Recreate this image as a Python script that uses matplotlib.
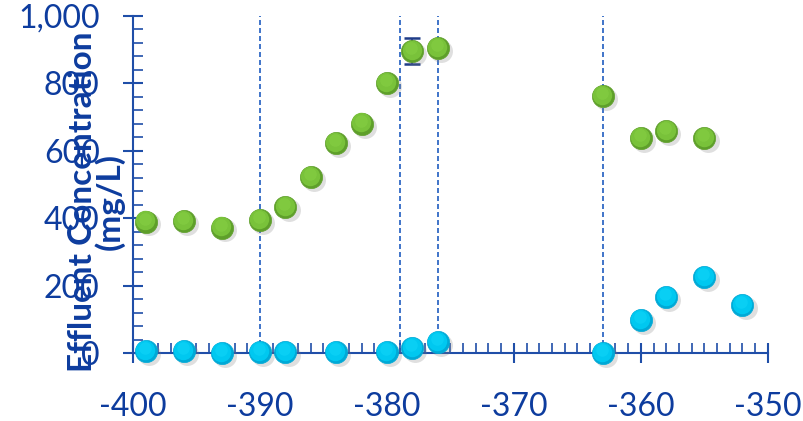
import numpy as np
import matplotlib.pyplot as plt
from matplotlib.ticker import MultipleLocator, FuncFormatter

# Sampling positions and concentrations
green_x = [-399, -396, -393, -390, -388, -386, -384, -382, -380, -378, -376, -363, -360, -358, -355]
green_y = [390, 392, 372, 395, 433, 522, 623, 680, 801, 896, 905, 763, 638, 659, 638]
cyan_x = [-399, -396, -393, -390, -388, -384, -380, -378, -376, -363, -360, -358, -355, -352]
cyan_y = [5, 5, 0, 3, 3, 3, 3, 15, 33, 0, 98, 166, 225, 142]

# error bar on one green point
err_x = [-378]
err_y = [896]
err_size = [38]

# event markers
event_x = [-390, -379, -376, -363]

text_col = '#0D3C9E'
axis_col = '#1F4EA8'

plt.rcParams['font.family'] = ['Lato', 'DejaVu Sans']
plt.rcParams['axes.unicode_minus'] = False

fig = plt.figure(figsize=(8.04, 4.21), dpi=100)
ax = fig.add_axes([0.1654, 0.1615, 0.7896, 0.8005])

for xv in event_x:
    ax.plot([xv, xv], [0, 1000], ls=(0, (3, 1.8)), color='#1F5CC0', lw=1.2, zorder=1)

ax.errorbar(err_x, err_y, yerr=err_size, fmt='none', ecolor='#1F3C88',
            elinewidth=1.2, capsize=5.5, capthick=1.8, zorder=2)


def shaded_points(xs, ys, base, light, dark):
    xs = np.asarray(xs, float)
    ys = np.asarray(ys, float)
    # soft shadow
    ax.plot(xs + 0.25, ys - 8, 'o', ms=16.5, color='#808080', alpha=0.25,
            mec='none', zorder=3)
    ax.plot(xs, ys, 'o', ms=16, color=dark, mec=dark, mew=0.5, zorder=4)
    ax.plot(xs - 0.05, ys + 4, 'o', ms=14, color=base, mec='none', zorder=5)
    ax.plot(xs - 0.08, ys + 9, 'o', ms=9, color=light, mec='none', alpha=0.6, zorder=6)


shaded_points(green_x, green_y, '#79C23A', '#86CF44', '#5E9F2A')
shaded_points(cyan_x, cyan_y, '#00C8F0', '#10D4F8', '#00A9D6')

ax.set_xlim(-400, -350)
ax.set_ylim(0, 1000)

ax.xaxis.set_major_locator(MultipleLocator(10))
ax.xaxis.set_minor_locator(MultipleLocator(1))
ax.yaxis.set_major_locator(MultipleLocator(200))
ax.yaxis.set_minor_locator(MultipleLocator(40))
ax.yaxis.set_major_formatter(FuncFormatter(lambda v, p: f'{int(v):,}'))

for s in ['top', 'right']:
    ax.spines[s].set_visible(False)
for s in ['left', 'bottom']:
    ax.spines[s].set_color(axis_col)
    ax.spines[s].set_linewidth(1.5)

ax.tick_params(which='major', direction='inout', length=14, width=1.5,
               color=axis_col, labelcolor=text_col, labelsize=23)
ax.tick_params(which='minor', direction='in', length=7, width=1.2, color=axis_col)
ax.tick_params(axis='x', which='major', pad=21)
ax.tick_params(axis='y', which='major', pad=17)

ax.set_ylabel('Effluent Concentration\n(mg/L)', fontsize=24, fontweight='bold',
              color=text_col, linespacing=0.9)
ax.yaxis.set_label_coords(-0.013, 0.45)
for line in ax.lines:
    line.set_clip_on(False)

fig.savefig('out.png', dpi=100)
